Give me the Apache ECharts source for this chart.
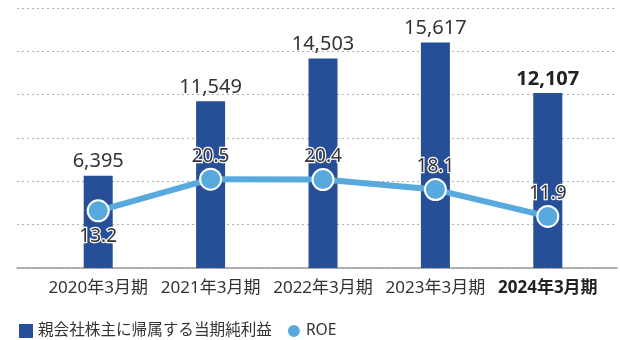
<!DOCTYPE html>
<html>
<head>
<meta charset="utf-8">
<script src="https://cdn.jsdelivr.net/npm/echarts@6/dist/echarts.min.js"></script>
<style>
  html, body { margin: 0; padding: 0; background: #fff; }
  #chart { width: 620px; height: 340px; }
</style>
</head>
<body>
<div id="chart"></div>
<script>
// Fiscal periods and results
const categories = ['2020年3月期', '2021年3月期', '2022年3月期', '2023年3月期', '2024年3月期'];
const netIncome = [6395, 11549, 14503, 15617, 12107];   // 親会社株主に帰属する当期純利益
const roe = [13.2, 20.5, 20.4, 18.1, 11.9];              // ROE (%)
const roeLabelPos = ['bottom', 'top', 'top', 'top', 'top'];

const FONT = "'Noto Sans', 'Noto Sans CJK JP', sans-serif";
const BAR_COLOR = '#264f97';
const LINE_COLOR = '#57a9de';
const lastIdx = categories.length - 1;

const chart = echarts.init(document.getElementById('chart'));

chart.setOption({
  animation: false,
  textStyle: { fontFamily: FONT },
  legend: {
    left: 14,
    top: 318,
    itemWidth: 14,
    itemHeight: 14,
    itemGap: 14,
    textStyle: { fontSize: 15.6, color: '#333', fontFamily: FONT },
    data: [
      { name: '親会社株主に帰属する当期純利益', icon: 'rect' },
      { name: 'ROE', icon: 'circle' }
    ]
  },
  grid: [
    // background grid: dotted guides and the base line across the full width
    { left: 17, right: 3, top: 8, bottom: 72 },
    // data grid
    { left: 42, right: 16, top: 8, bottom: 72 }
  ],
  xAxis: [
    {
      gridIndex: 0, type: 'value', min: 0, max: 1,
      axisLine: { show: true, lineStyle: { color: '#9a9a9a', width: 1.5 } },
      axisTick: { show: false }, axisLabel: { show: false }, splitLine: { show: false }
    },
    {
      gridIndex: 1, type: 'category', data: categories,
      axisLine: { show: false }, axisTick: { show: false },
      axisLabel: {
        interval: 0,
        margin: 12,
        formatter: (v, i) => (i === lastIdx ? '{b|' + v + '}' : '{n|' + v + '}'),
        rich: {
          n: { fontSize: 17, color: '#333', fontFamily: FONT },
          b: { fontSize: 17, color: '#222', fontWeight: 'bold', fontFamily: FONT }
        }
      }
    }
  ],
  yAxis: [
    {
      gridIndex: 0, type: 'value', min: 0, max: 6, interval: 1,
      axisLine: { show: false }, axisTick: { show: false }, axisLabel: { show: false },
      splitLine: { show: true, lineStyle: { color: '#b0b0b0', type: [2, 3], width: 1 } }
    },
    {
      gridIndex: 1, type: 'value', min: 0, max: 18000, interval: 3000,
      axisLine: { show: false }, axisTick: { show: false }, axisLabel: { show: false },
      splitLine: { show: false }
    },
    {
      gridIndex: 1, type: 'value', min: 0, max: 60, interval: 10,
      axisLine: { show: false }, axisTick: { show: false }, axisLabel: { show: false },
      splitLine: { show: false }
    }
  ],
  series: [
    {
      name: '親会社株主に帰属する当期純利益',
      type: 'bar',
      xAxisIndex: 1, yAxisIndex: 1,
      barWidth: 29,
      itemStyle: { color: BAR_COLOR },
      label: {
        show: true, position: 'top', distance: 4,
        fontSize: 20, color: '#333', fontFamily: FONT,
        formatter: p => p.value.toLocaleString('en-US')
      },
      data: netIncome.map((v, i) => i === lastIdx
        ? { value: v, label: { fontWeight: 'bold', color: '#222' } }
        : v)
    },
    {
      name: 'ROE',
      type: 'line',
      xAxisIndex: 1, yAxisIndex: 2,
      z: 5,
      symbol: 'circle',
      symbolSize: 21,
      lineStyle: { color: LINE_COLOR, width: 6 },
      itemStyle: { color: LINE_COLOR, borderColor: '#fff', borderWidth: 2 },
      label: {
        show: true, fontSize: 19, color: '#333', fontFamily: FONT,
        textBorderColor: '#fff', textBorderWidth: 2.5,
        formatter: p => p.value.toFixed(1)
      },
      data: roe.map((v, i) => ({
        value: v,
        label: { position: roeLabelPos[i], distance: roeLabelPos[i] === 'bottom' ? 5 : 2 }
      }))
    }
  ]
});
</script>
</body>
</html>
